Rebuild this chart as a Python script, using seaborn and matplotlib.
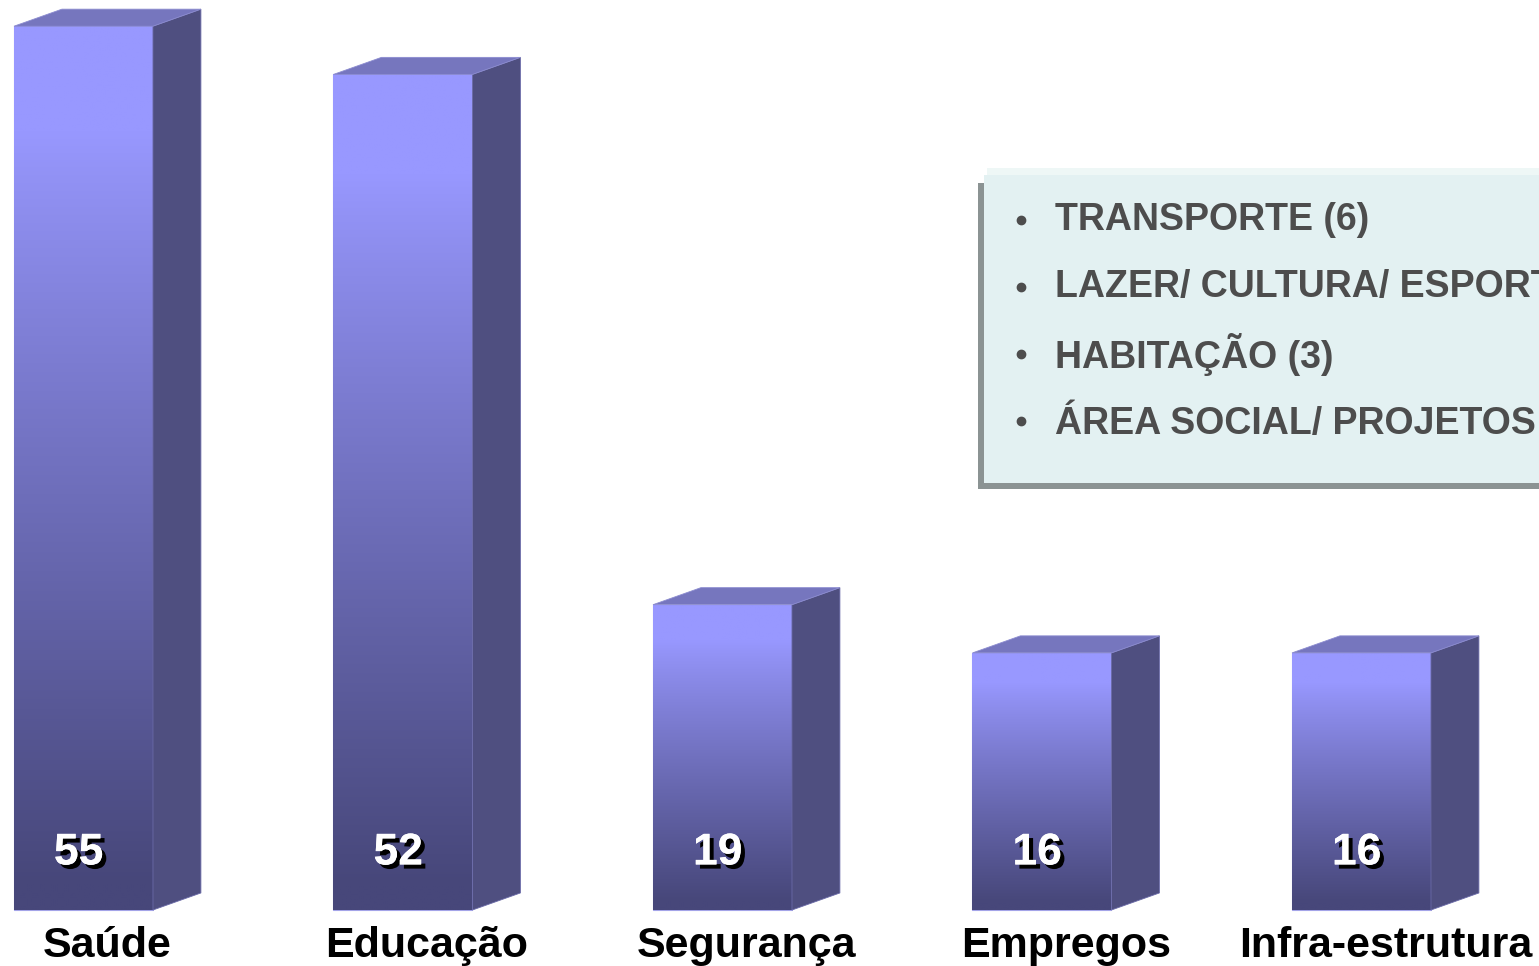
import numpy as np
import matplotlib
matplotlib.use("Agg")
import matplotlib.pyplot as plt
import matplotlib.patheffects as pe
from matplotlib.patches import Polygon, Rectangle
from matplotlib.lines import Line2D
from matplotlib.colors import to_rgb
import seaborn as sns

# --- data ---
categories = ["Saúde", "Educação", "Segurança", "Empregos", "Infra-estrutura"]
values = [55, 52, 19, 16, 16]
other_items = ["TRANSPORTE (6)", "LAZER/ CULTURA/ ESPORTE (4)",
               "HABITAÇÃO (3)", "ÁREA SOCIAL/ PROJETOS (3)"]

# --- style ---
LIGHT = to_rgb("#9898FF")
DARK = to_rgb("#47477A")
SIDE = "#4F4F80"
TOP = "#7676BE"
EDGE = "#A4A4E8"

sns.set_theme(style="white")
plt.rcParams["font.family"] = ["Liberation Sans", "DejaVu Sans"]

W, H = 1539, 966
fig = plt.figure(figsize=(W / 100, H / 100), dpi=100)
ax = fig.add_axes([0, 0, 1, 1])

sns.barplot(x=categories, y=values, width=0.435, color=LIGHT,
            saturation=1, ax=ax, zorder=2)

# depth of the fake 3D extrusion, in data units
dx, dy = 0.150, 1.06

# vertical gradient for the front faces
t = np.linspace(0, 1, 256)[:, None]
f = np.clip((t - 0.12) / 0.85, 0, 1) ** 0.9
grad = np.empty((256, 1, 3))
for c in range(3):
    grad[:, 0, c] = LIGHT[c] + (DARK[c] - LIGHT[c]) * f[:, 0]

for patch in list(ax.patches):
    x0 = patch.get_x()
    w = patch.get_width()
    h = patch.get_height()
    x1 = x0 + w
    patch.set_edgecolor(EDGE)
    patch.set_linewidth(0.8)
    im = ax.imshow(grad, extent=[x0, x1, 0, h], origin="upper",
                   aspect="auto", zorder=2.5, interpolation="bilinear")
    im.set_clip_path(patch)
    side = Polygon([(x1, 0), (x1 + dx, dy), (x1 + dx, h + dy), (x1, h)],
                   closed=True, facecolor=SIDE, edgecolor="#6A6AA8",
                   linewidth=0.6, zorder=3)
    top = Polygon([(x0, h), (x0 + dx, h + dy), (x1 + dx, h + dy), (x1, h)],
                  closed=True, facecolor=TOP, edgecolor="#8C8CD0",
                  linewidth=0.6, zorder=3)
    ax.add_patch(side)
    ax.add_patch(top)

# value labels (white with black drop shadow) and category labels
for i, (cat, v) in enumerate(zip(categories, values)):
    ax.text(i - 0.015, 3.55, str(v), ha="center", va="center",
            fontsize=32, fontweight="bold", color="white", zorder=5,
            path_effects=[pe.withSimplePatchShadow(offset=(3, -3),
                                                   shadow_rgbFace="black",
                                                   alpha=1.0),
                          pe.Normal()])
    ax.text(i + dx / 2, -2.25, cat, ha="center", va="center",
            fontsize=31, fontweight="bold", color="black", zorder=5)

ax.set_xlim(-0.2613, 4.5556)
ax.set_ylim(-3.485, 56.63)
ax.axis("off")


# --- box listing the other themes (pixel coords -> figure coords) ---
def fx(px):
    return px / W


def fy(py):
    return 1 - py / H


fig.add_artist(Rectangle((fx(987), fy(176)), fx(560), 8 / H,
                         transform=fig.transFigure, facecolor="#EEF7F6",
                         edgecolor="none", zorder=1))
fig.add_artist(Rectangle((fx(978), fy(489)), fx(570), 306 / H,
                         transform=fig.transFigure, facecolor="#8B9393",
                         edgecolor="none", zorder=1))
fig.add_artist(Rectangle((fx(984), fy(483)), fx(570), 308 / H,
                         transform=fig.transFigure, facecolor="#E3F1F2",
                         edgecolor="none", zorder=1))

for k, item in enumerate(other_items):
    py = 220 + k * 67
    fig.add_artist(Line2D([fx(1021)], [fy(py)], transform=fig.transFigure,
                          marker="o", markersize=6, color="#4D4D4D",
                          linestyle="none", zorder=2))
    fig.text(fx(1055), fy(py), item, ha="left", va="center",
             fontsize=27, fontweight="bold", color="#4D4D4D", zorder=2)

fig.savefig("out.png", dpi=100, facecolor="white")
plt.close(fig)
